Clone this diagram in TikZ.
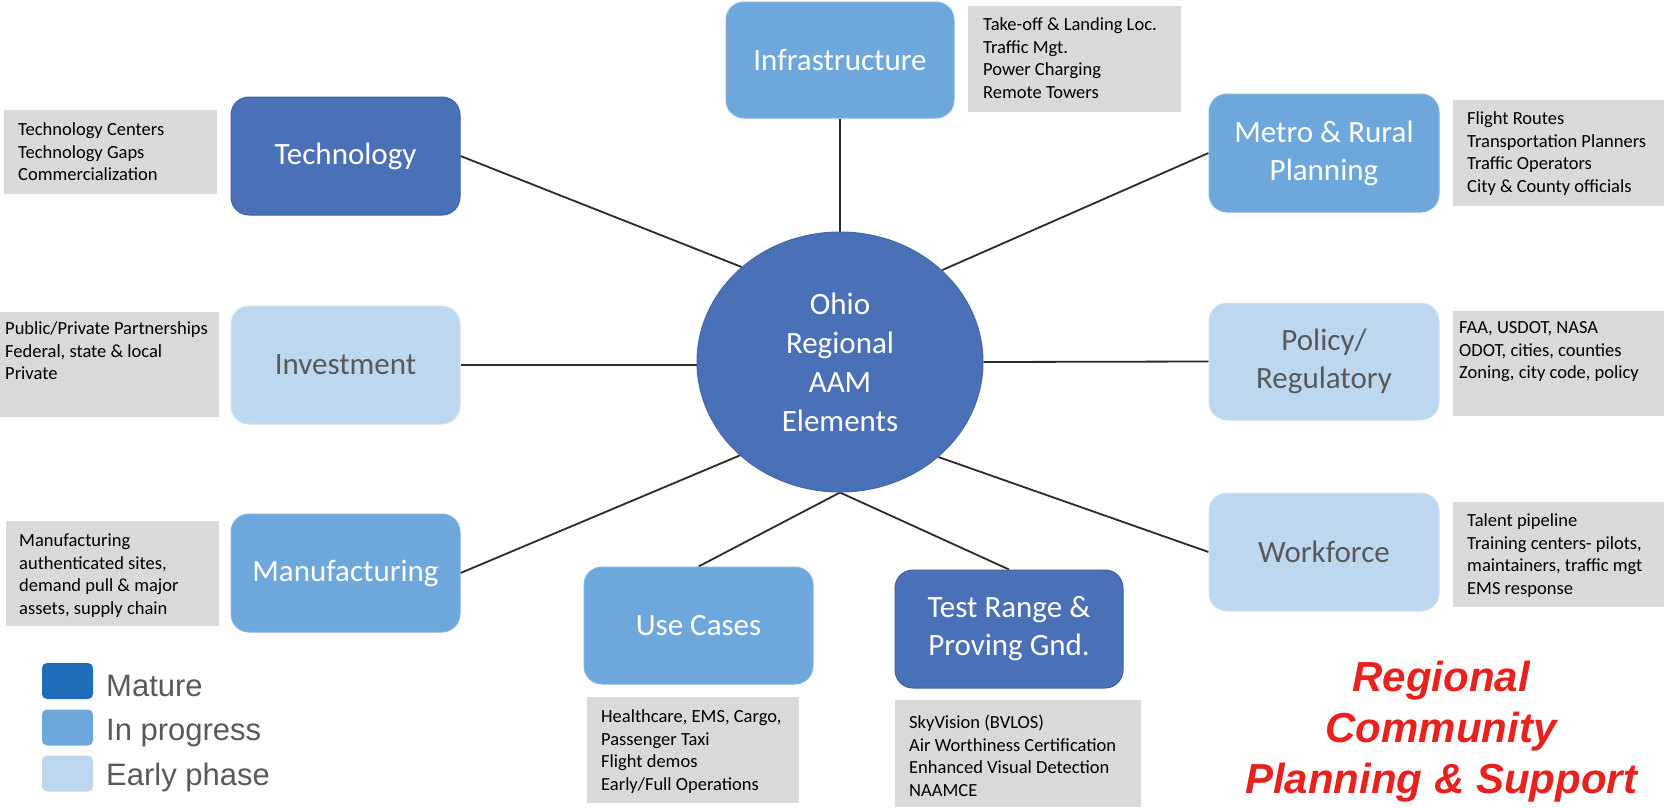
\documentclass[tikz,border=0pt]{standalone}
\usepackage{fontspec}
\setmainfont{Carlito}
\newfontfamily\arialf{Liberation Sans}
\usetikzlibrary{shapes.geometric,backgrounds}
\definecolor{cdark}{HTML}{4A71B8}
\definecolor{cmid}{HTML}{6DA7DB}
\definecolor{clight}{HTML}{BDD7EE}
\definecolor{cnote}{HTML}{D9D9DB}
\definecolor{cmature}{HTML}{1F6DB8}
\definecolor{ctxtgray}{HTML}{595959}
\definecolor{cline}{HTML}{2A2A2A}
\definecolor{cred}{HTML}{E8201E}
\tikzset{
  box/.style={rectangle, rounded corners=18pt, minimum width=229pt, minimum height=118pt,
    inner sep=0pt, align=center, font=\fontsize{31}{38}\selectfont, line width=1pt},
  darkbox/.style={box, fill=cdark, draw=cdark!85!black, text=white},
  midbox/.style={box, fill=cmid, draw=cmid!85!white, text=white},
  lightbox/.style={box, fill=clight, draw=clight!70!white, text=ctxtgray},
  note/.style={rectangle, fill=cnote, inner sep=0pt, anchor=north west},
  notetxt/.style={anchor=north west, inner sep=0pt, align=left,
    font=\fontsize{18.5}{22.5}\selectfont, text=black},
  conn/.style={draw=cline, line width=1.8pt},
  legsq/.style={rectangle, rounded corners=5pt, minimum width=51pt, minimum height=36pt, inner sep=0pt},
  legtxt/.style={anchor=base west, inner sep=0pt, text=ctxtgray, font=\arialf\fontsize{31}{36}\selectfont}
}
\begin{document}
\begin{tikzpicture}[x=1pt,y=-1pt]
\useasboundingbox (0,0) rectangle (1664,807);

% centre
\node[ellipse, minimum width=286pt, minimum height=260pt, inner sep=0pt, fill=cdark,
  draw=cdark!90!black, line width=1pt, text=white, align=center,
  font=\fontsize{31}{39}\selectfont] (c) at (840,362) {Ohio\\Regional\\AAM\\Elements};

% element boxes
\node[midbox, minimum width=228pt, minimum height=116pt] (infra) at (840,60) {Infrastructure};
\node[darkbox] (tech) at (345.5,156) {Technology};
\node[midbox, minimum width=230pt] (metro) at (1324,153) {Metro \& Rural\\Planning};
\node[lightbox] (inv) at (345.5,365) {Investment};
\node[lightbox, minimum width=230pt, minimum height=117pt] (pol) at (1324,361.5) {Policy/\\Regulatory};
\node[midbox] (man) at (345.5,573) {Manufacturing};
\node[lightbox, minimum width=230pt] (wf) at (1324,552) {Workforce};
\node[midbox, minimum height=117pt] (use) at (698.5,625.5) {Use Cases};
\node[darkbox, minimum width=228pt] (test) at (1009,629) {Test Range \&\\Proving Gnd.};

% notes
\node[note, minimum width=213pt, minimum height=106pt] (infraN) at (968,6) {};
\node[notetxt] (infraT) at ([shift={(15,9)}]infraN.north west)
  {\strut Take-off \& Landing Loc.\\Traffic Mgt.\\Power Charging\\Remote Towers};

\node[note, minimum width=213pt, minimum height=84pt] (techN) at (4,110) {};
\node[notetxt] (techT) at ([shift={(14,10)}]techN.north west)
  {\strut Technology Centers\\Technology Gaps\\Commercialization};

\node[note, minimum width=211pt, minimum height=106pt] (metroN) at (1453,100) {};
\node[notetxt] (metroT) at ([shift={(14,9)}]metroN.north west)
  {\strut Flight Routes\\Transportation Planners\\Traffic Operators\\City \& County officials};

\node[note, minimum width=219pt, minimum height=105pt] (invN) at (0,312) {};
\node[notetxt] (invT) at ([shift={(5,7)}]invN.north west)
  {\strut Public/Private Partnerships\\Federal, state \& local\\Private};

\node[note, minimum width=211pt, minimum height=105pt] (polN) at (1453,311) {};
\node[notetxt] (polT) at ([shift={(6,7)}]polN.north west)
  {\strut FAA, USDOT, NASA\\ODOT, cities, counties\\Zoning, city code, policy};

\node[note, minimum width=213pt, minimum height=105pt] (manN) at (6,521) {};
\node[notetxt] (manT) at ([shift={(13,10)}]manN.north west)
  {\strut Manufacturing\\authenticated sites,\\demand pull \& major\\assets, supply chain};

\node[note, minimum width=211pt, minimum height=105pt] (wfN) at (1453,502) {};
\node[notetxt] (wfT) at ([shift={(14,9)}]wfN.north west)
  {\strut Talent pipeline\\Training centers- pilots,\\maintainers, traffic mgt\\EMS response};

\node[note, minimum width=212pt, minimum height=106pt] (useN) at (587,697) {};
\node[notetxt] (useT) at ([shift={(14,10)}]useN.north west)
  {\strut Healthcare, EMS, Cargo,\\Passenger Taxi\\Flight demos\\Early/Full Operations};

\node[note, minimum width=246pt, minimum height=107pt] (testN) at (895,700) {};
\node[notetxt] (testT) at ([shift={(14,13)}]testN.north west)
  {\strut SkyVision (BVLOS)\\Air Worthiness Certification\\Enhanced Visual Detection\\NAAMCE};

% legend
\node[legsq, fill=cmature] (lm) at (67.5,681) {};
\node[legsq, fill=cmid] (lp) at (67.5,727.5) {};
\node[legsq, fill=clight] (le) at (67.5,773.5) {};
\node[legtxt] (lmt) at (106,696) {Mature};
\node[legtxt] (lpt) at (106,740) {In progress};
\node[legtxt] (let) at (106,785) {Early phase};

% red title
\node[anchor=north, align=center, inner sep=0pt, text=cred,
  font=\arialf\bfseries\itshape\fontsize{42}{51}\selectfont] (title) at (1441,656)
  {\strut Regional\\Community\\Planning \& Support};

% connectors
\begin{scope}[on background layer]
\fill[white] (0,0) rectangle (1664,807);
\draw[conn] (c.north) -- (infra.south);
\draw[conn] (c.136.8) -- (tech.east);
\draw[conn] (c.42.7) -- (metro.west);
\draw[conn] (inv.east) -- (inv.east -| c.west);
\draw[conn] (c.east) -- (pol.west);
\draw[conn] (c.223.8) -- (man.east);
\draw[conn] (c.316.7) -- (wf.west);
\draw[conn] (c.south) -- (use.north);
\draw[conn] (c.south) -- (test.north);
\end{scope}
\end{tikzpicture}
\end{document}
